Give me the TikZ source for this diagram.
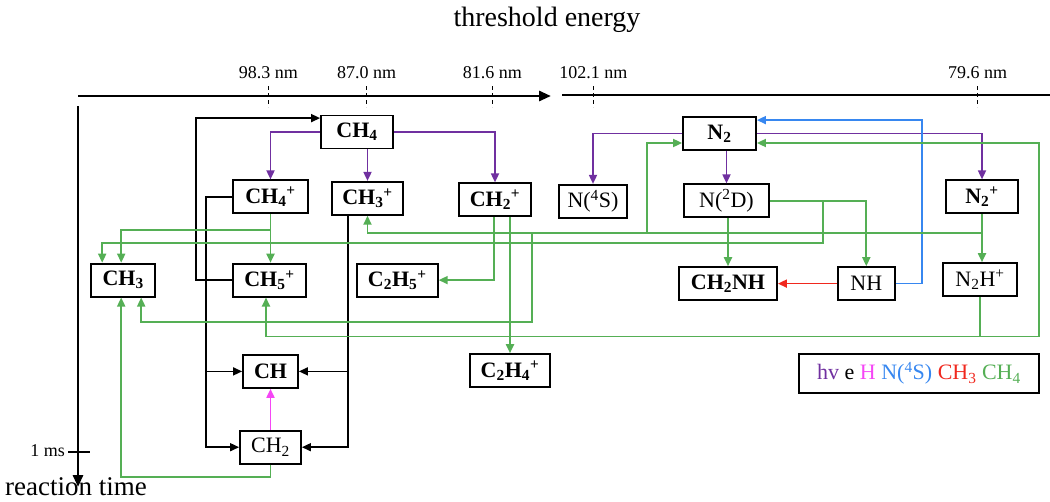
\documentclass[tikz,border=0pt]{standalone}
\usepackage{fontspec}
\setmainfont{Liberation Serif}
\usetikzlibrary{arrows.meta, positioning, calc}
\definecolor{hvcol}{RGB}{112,48,160}
\definecolor{chfour}{RGB}{85,175,85}
\definecolor{nfours}{RGB}{55,135,240}
\definecolor{chthree}{RGB}{240,40,30}
\definecolor{hatom}{RGB}{245,70,245}
\newcommand{\fsz}[1]{\fontsize{#1}{#1}\selectfont}
\tikzset{
  mol/.style={rectangle, draw=black, line width=1.8pt, minimum height=33pt, inner sep=2pt, text centered, font=\fsz{22}},
  molb/.style={mol, font=\fsz{22}\bfseries},
  arr/.style={-{Triangle[length=9pt, width=8pt]}},
  blk/.style={arr, line width=1.5pt, draw=black},
  hvline/.style={arr, line width=1.7pt, draw=hvcol},
  grline/.style={arr, line width=1.8pt, draw=chfour},
  nline/.style={arr, line width=1.7pt, draw=nfours},
  redline/.style={arr, line width=1.7pt, draw=chthree},
  hline/.style={arr, line width=1.7pt, draw=hatom},
  axisline/.style={line width=2.8pt},
  tickline/.style={line width=1.2pt, dash pattern=on 4pt off 3pt},
  nmlabel/.style={font=\fsz{18}, inner sep=1pt},
  axistitle/.style={font=\fsz{28}, inner sep=0pt}
}

\begin{document}
\begin{tikzpicture}[x=1pt, y=-1pt]
    \useasboundingbox (0,0) rectangle (1050,501);

    % === AXES ===
    \node[axistitle] (energy) at (547,20) {threshold energy};
    \node[axistitle, font=\fsz{27}] (rtime) at (76,487) {reaction time};
    \coordinate (e0) at (78,96);
    \coordinate (e1) at (551,96);
    \coordinate (e2) at (562,95);
    \coordinate (e3) at (1050,95);
    \coordinate (t0) at (78,106);
    \coordinate (t1) at (78,487);
    \coordinate (ms) at (78,452);
    \draw[axisline, -{Triangle[length=12pt, width=10pt]}] (e0) -- (e1);
    \draw[axisline] (e2) -- (e3);
    \draw[axisline, -{Triangle[length=12pt, width=10pt]}] (t0) -- (t1);
    \draw[axisline] (ms) ++(-10,0) -- ++(22,0);
    \node[nmlabel, anchor=east] (mslabel) at (66,451) {1 ms};

    % wavelength ticks
    \foreach \x/\lab [count=\i] in {268.3/98.3, 366.5/87.0, 492.3/81.6, 593.3/102.1, 977.7/79.6} {
        \node[nmlabel] (nm\i) at (\x,73) {\lab~nm};
        \coordinate (tk\i) at (\x,96);
        \draw[tickline] (tk\i) ++(0,-10) -- ++(0,21);
    }

    % === METHANE SIDE ===
    \node[molb, minimum width=72pt] (ch4) at (357,132) {CH\textsubscript{4}};
    \node[molb, minimum width=75pt, below=30pt of ch4, xshift=-86.5pt] (ch4p) {CH\textsubscript{4}\textsuperscript{+}};
    \node[molb, minimum width=71pt, below=31.5pt of ch4, xshift=10.5pt] (ch3p) {CH\textsubscript{3}\textsuperscript{+}};
    \node[molb, minimum width=72pt, below=33pt of ch4, xshift=138pt] (ch2p) {CH\textsubscript{2}\textsuperscript{+}};
    \node[molb, minimum width=73pt, below=48.5pt of ch4p, xshift=-1pt] (ch5p) {CH\textsubscript{5}\textsuperscript{+}};
    \node[molb, minimum width=64pt, left=76pt of ch5p] (ch3) {CH\textsubscript{3}};
    \node[molb, minimum width=81pt, right=49pt of ch5p] (c2h5p) {C\textsubscript{2}H\textsubscript{5}\textsuperscript{+}};
    \node[molb, minimum width=55pt, below=56.5pt of ch5p, xshift=1pt] (ch) {CH};
    \node[mol, minimum width=61pt, below=41pt of ch] (ch2) {CH\textsubscript{2}};
    \node[molb, minimum width=80pt, below=136pt of ch2p, xshift=15pt] (c2h4p) {C\textsubscript{2}H\textsubscript{4}\textsuperscript{+}};

    % === NITROGEN SIDE ===
    \node[molb, minimum width=73pt] (n2) at (719.5,133.5) {N\textsubscript{2}};
    \node[mol, minimum width=68pt, below=33pt of n2, xshift=-126.5pt] (n4s) {N(\textsuperscript{4}S)};
    \node[mol, minimum width=85pt, below=32.5pt of n2, xshift=7pt] (n2d) {N(\textsuperscript{2}D)};
    \node[molb, minimum width=72pt, below=28.5pt of n2, xshift=262.5pt] (n2p) {N\textsubscript{2}\textsuperscript{+}};
    \node[molb, minimum width=98pt, below=48pt of n2d, xshift=1.5pt] (ch2nh) {CH\textsubscript{2}NH};
    \node[mol, minimum width=57pt, right=59pt of ch2nh] (nh) {NH};
    \node[mol, minimum width=74pt, below=48pt of n2p, xshift=-2pt] (n2hp) {N\textsubscript{2}H\textsuperscript{+}};

    % legend
    \node[draw, line width=1.8pt, minimum width=240pt, minimum height=39pt, inner sep=2pt, font=\fsz{22}] (legend) at (919,373.5)
        {\textcolor{hvcol}{hv} e \textcolor{hatom}{H} \textcolor{nfours}{N(\textsuperscript{4}S)} \textcolor{chthree}{CH\textsubscript{3}} \textcolor{chfour}{CH\textsubscript{4}}};

    % ===== ARROWS =====
    % photolysis (hv)
    \draw[hvline] (ch4.west) -| (ch4p.north);
    \draw[hvline] (ch4.south -| ch3p.north) -- (ch3p.north);
    \draw[hvline] (ch4.east) -| (ch2p.north);
    \draw[hvline] (n2.west) -| (n4s.north);
    \draw[hvline] (n2.south -| n2d.north) -- (n2d.north);
    \draw[hvline] (n2.east) -| (n2p.north);

    % electron recombination (black)
    \draw[blk] (ch5p.west) -- ++(-36,0) |- ([yshift=-3.5pt]ch4.north west);
    \draw[blk] (ch4p.west) -- ++(-26,0) |- (ch2.west);
    \draw[blk] (ch4p.west) ++(-26,0) |- (ch.west);
    \draw[blk] ([xshift=-19.5pt]ch3p.south) |- (ch2.east);
    \draw[blk] ([xshift=-19.5pt]ch3p.south) |- (ch.east);

    % H, N(4S), CH3
    \draw[hline] (ch2.north) -- (ch.south);
    \draw[nline] (nh.east) -- ++(26,0) |- ([yshift=-4pt]n2.north east);
    \draw[redline] (nh.west) -- (ch2nh.east);

    % reactions with CH4 (green)
    \draw[grline] (ch4p.south) -- (ch4p.south |- ch5p.north);
    \draw[grline] (ch4p.south) ++(0,15.5) -| ([xshift=-2pt]ch3.north);
    \draw[grline] (n2d.east) -| (nh.north);
    \draw[grline] (n2d.east) ++(53,0) -- ++(0,42) -| ([xshift=-21pt]ch3.north);
    \draw[grline] (n2d.south -| ch2nh.north) -- (ch2nh.north);
    \draw[grline] (n2p.south) -- (n2p.south |- n2hp.north);
    \coordinate (jn2p) at ($(n2p.south)+(0,18.5)$);
    \draw[grline] (jn2p) -| (ch3p.south);
    \draw[grline] (jn2p -| n2.west) ++(-35,0) |- ([yshift=-9.5pt]n2.west);
    \draw[grline] (jn2p -| ch2p.south) ++(37,0) -- ++(0,89) -| ([xshift=18pt]ch3.south);
    \draw[grline] ([xshift=-1pt]ch2p.south) |- (c2h5p.east);
    \draw[grline] (ch2p.south -| c2h4p.north) -- (c2h4p.north);
    \draw[grline] (n2hp.south) -- ++(0,39.5) -| ([xshift=-3.5pt]ch5p.south);
    \draw[grline] (n2hp.south) ++(0,39.5) -- ++(59,0) |- ([yshift=-9.5pt]n2.east);
    \draw[grline] (ch2.south) -- ++(0,12.5) -| ([xshift=-2pt]ch3.south);
\end{tikzpicture}
\end{document}
